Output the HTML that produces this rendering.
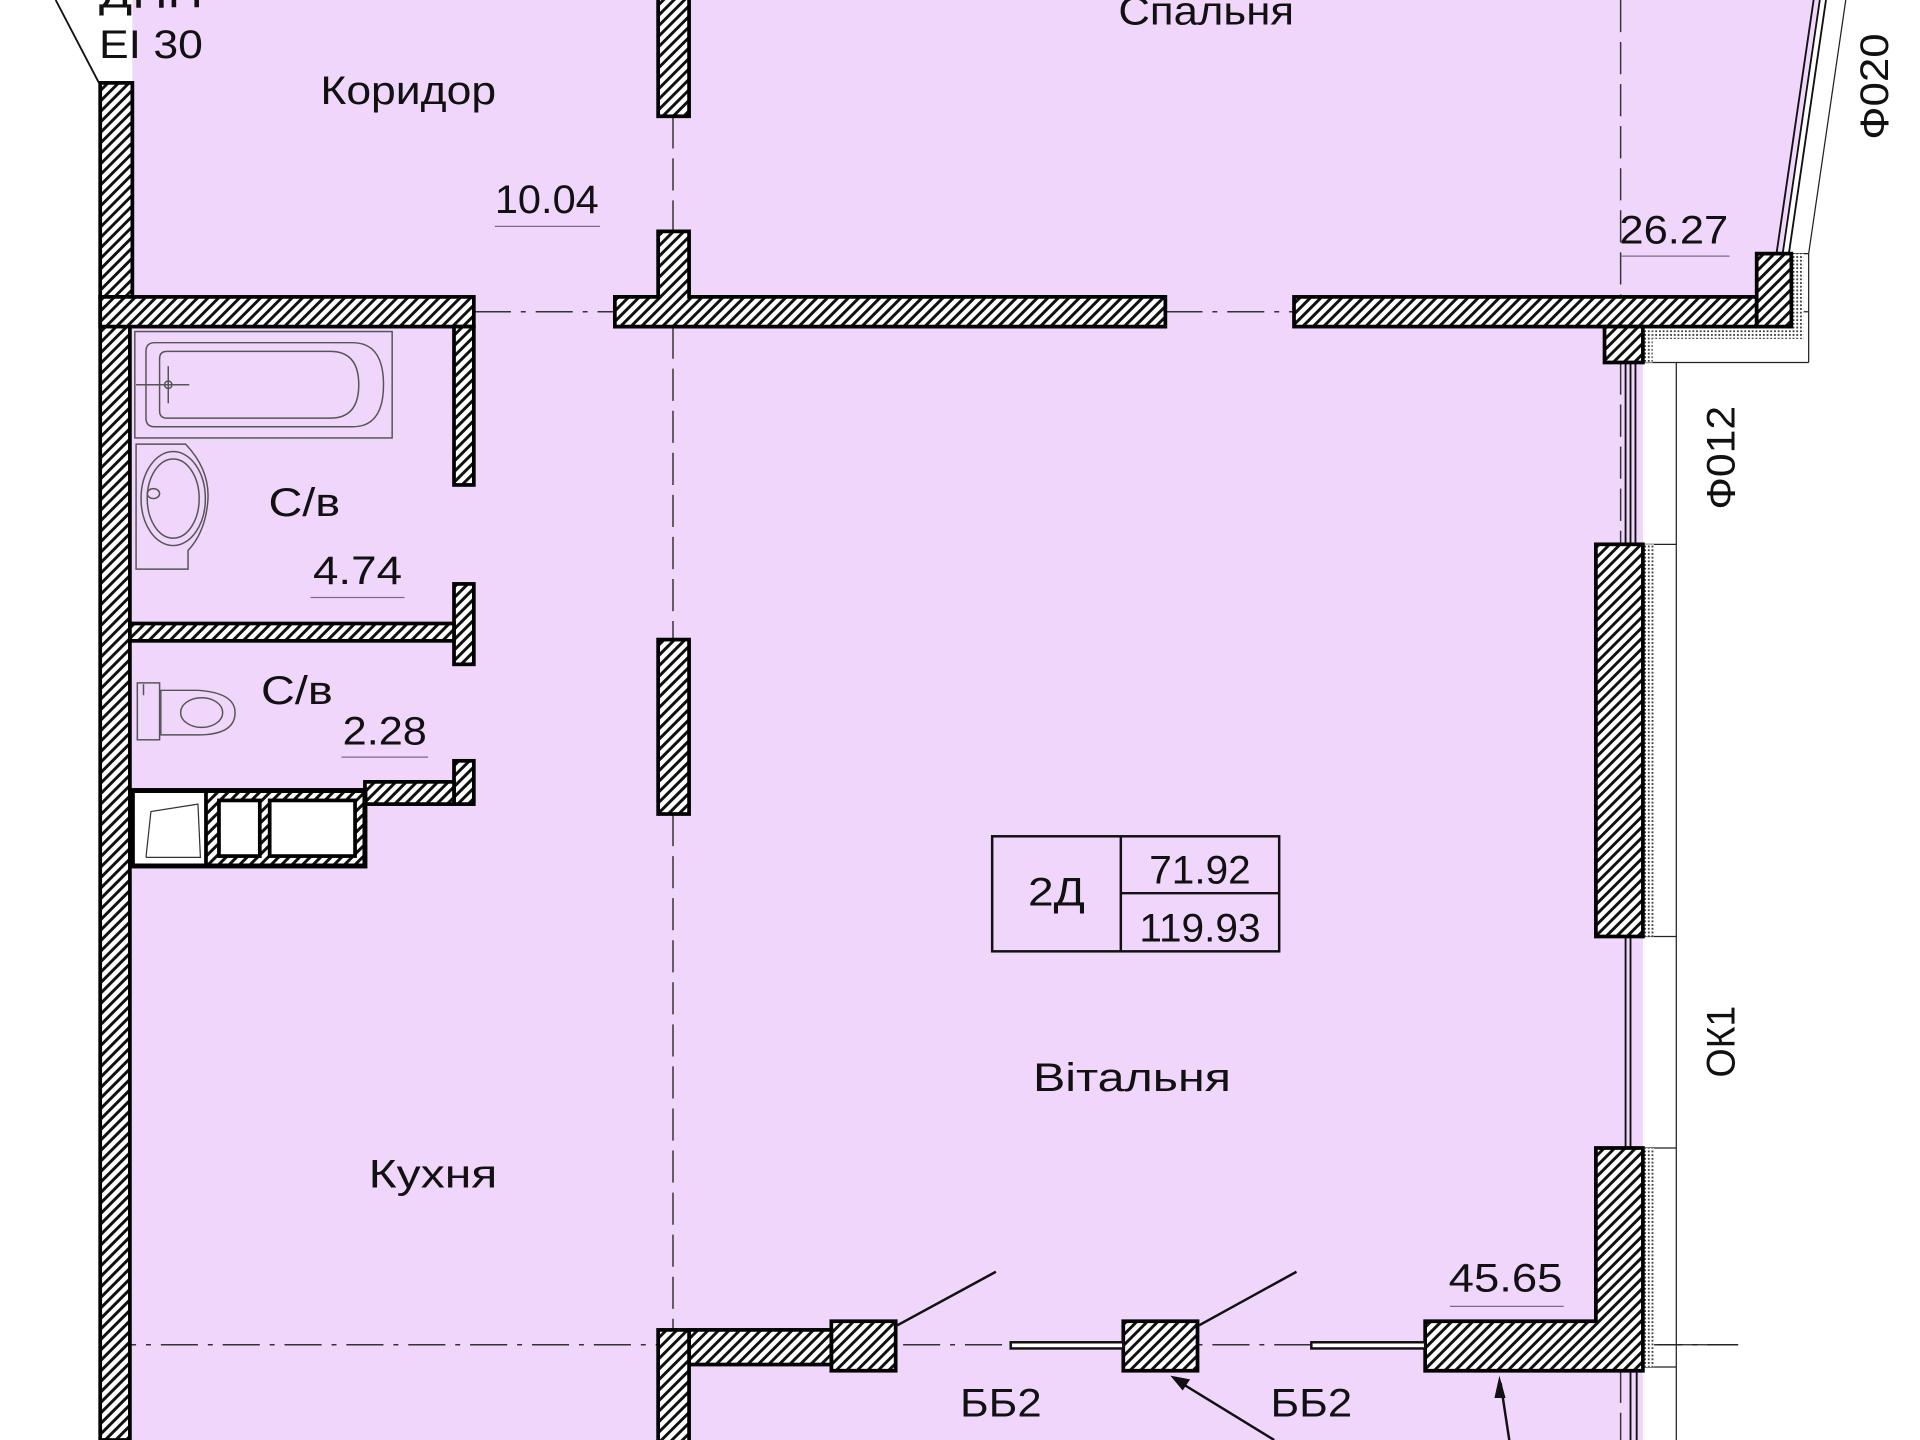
<!DOCTYPE html>
<html><head><meta charset="utf-8"><style>
html,body{margin:0;padding:0;background:#fff;}
svg{display:block;}
text{font-family:"Liberation Sans","DejaVu Sans",sans-serif;fill:#111;}
</style></head><body>
<svg width="1920" height="1440" viewBox="0 0 1552 1164" xmlns="http://www.w3.org/2000/svg">
<defs>
<pattern id="h" width="6" height="6" patternUnits="userSpaceOnUse" patternTransform="rotate(45)">
<rect width="6" height="6" fill="#fff"/><rect width="2.4" height="6" fill="#111"/>
</pattern>
<pattern id="d" width="3" height="3" patternUnits="userSpaceOnUse">
<rect width="3" height="3" fill="#fff"/><rect width="1.5" height="1.5" fill="#444"/>
</pattern>
</defs>
<rect width="1552" height="1164" fill="#fff"/>
<!-- pink floor -->
<polygon points="107,0 1470,0 1440,205 1420,264 1328,264 1328,1164 80,1164 80,67 107,67" fill="#f0d6fb"/>

<!-- axes -->
<g stroke="#333" stroke-width="1.3" fill="none" stroke-dasharray="30,8,4,8">
<line x1="383" y1="252" x2="497" y2="252"/>
<line x1="942" y1="252" x2="1046" y2="252"/>
<line x1="80" y1="1087" x2="1405" y2="1087"/>
</g>
<g stroke="#333" stroke-width="1.2" fill="none" stroke-dasharray="26,8">
<line x1="544" y1="94" x2="544" y2="187"/>
<line x1="544" y1="264" x2="544" y2="517"/>
<line x1="544" y1="658" x2="544" y2="1075"/>
<line x1="1310" y1="0" x2="1310" y2="240"/>
<line x1="1310" y1="293" x2="1310" y2="440"/>
<line x1="1310" y1="1108" x2="1310" y2="1164"/>
</g>

<!-- right outline -->
<g stroke="#222" stroke-width="1" fill="none">
<line x1="1355" y1="293" x2="1355" y2="1164"/>
<line x1="1328" y1="293" x2="1462" y2="293"/>
<line x1="1462" y1="205" x2="1462" y2="293"/>
<line x1="1448" y1="205" x2="1462" y2="205"/>
<line x1="1462" y1="205" x2="1492" y2="0"/>
<line x1="1420" y1="252" x2="1462" y2="252"/>
<line x1="1328" y1="440" x2="1355" y2="440"/>
<line x1="1328" y1="757" x2="1355" y2="757"/>
<line x1="1328" y1="928" x2="1355" y2="928"/>
<line x1="1328" y1="1105" x2="1355" y2="1105"/>
<line x1="1340" y1="1087" x2="1405" y2="1087"/>
</g>
<!-- angled glazing -->
<g stroke="#111" stroke-width="1.5" fill="none">
<line x1="1436" y1="205" x2="1466" y2="0"/>
<line x1="1441" y1="205" x2="1471" y2="0"/>
<line x1="1446" y1="205" x2="1476" y2="0"/>
</g>
<!-- glass windows right -->
<g stroke="#111" stroke-width="1.5">
<line x1="1314" y1="293" x2="1314" y2="440"/><line x1="1318" y1="293" x2="1318" y2="440"/><line x1="1322" y1="293" x2="1322" y2="440"/>
<line x1="1314" y1="757" x2="1314" y2="928"/><line x1="1318" y1="757" x2="1318" y2="928"/>
<line x1="1318" y1="1108" x2="1318" y2="1164"/><line x1="1323" y1="1108" x2="1323" y2="1164"/>
</g>
<!-- insulation strips -->
<rect x="1328" y="264" width="8" height="29" fill="url(#d)"/>
<rect x="1336" y="264" width="112" height="10" fill="url(#d)"/>
<rect x="1448" y="205" width="10" height="69" fill="url(#d)"/>
<rect x="1328" y="440" width="9" height="317" fill="url(#d)"/>
<rect x="1328" y="928" width="9" height="177" fill="url(#d)"/>

<!-- walls -->
<g fill="url(#h)" stroke="#000" stroke-width="3">
<rect x="81" y="67" width="26" height="173"/>
<rect x="81" y="240" width="24" height="924"/>
<rect x="81" y="240" width="302" height="24"/>
<rect x="532" y="-5" width="25" height="99"/>
<polygon points="532,187 557,187 557,240 942,240 942,264 497,264 497,240 532,240"/>
<rect x="1046" y="240" width="374" height="24"/>
<rect x="1420" y="205" width="28" height="59"/>
<rect x="1297" y="264" width="31" height="29"/>
<rect x="367" y="264" width="16" height="128"/>
<rect x="367" y="472" width="16" height="65"/>
<rect x="105" y="504" width="262" height="14"/>
<rect x="367" y="615" width="16" height="35"/>
<rect x="295" y="632" width="72" height="18"/>
<rect x="532" y="517" width="25" height="141"/>
<rect x="1290" y="440" width="38" height="317"/>
<polygon points="1290,928 1328,928 1328,1108 1152,1108 1152,1068 1290,1068"/>
<rect x="908" y="1068" width="60" height="40"/>
<rect x="672" y="1068" width="52" height="40"/>
<rect x="557" y="1075" width="115" height="28"/>
<rect x="532" y="1075" width="25" height="95"/>
</g>
<!-- shaft box -->
<rect x="105" y="637" width="192" height="65" fill="#000"/>
<rect x="109" y="641" width="56" height="57" fill="#fff"/>
<rect x="168" y="641" width="125" height="57" fill="url(#h)"/>
<rect x="177" y="647" width="33" height="45" fill="#fff" stroke="#000" stroke-width="3"/>
<rect x="218" y="647" width="69" height="45" fill="#fff" stroke="#000" stroke-width="3"/>
<polyline points="118,693 122,656 160,650 162,693 118,693" fill="none" stroke="#333" stroke-width="1"/>

<!-- sashes & door swings -->
<g stroke="#111" stroke-width="2" fill="none">
<rect x="817" y="1085" width="91" height="5" fill="#fff"/>
<rect x="1060" y="1085" width="92" height="5" fill="#fff"/>
<line x1="724" y1="1072" x2="805" y2="1028"/>
<line x1="968" y1="1072" x2="1048" y2="1028"/>
<line x1="1030" y1="1164" x2="950" y2="1115"/>
<line x1="1220" y1="1164" x2="1213" y2="1118"/>
</g>
<polygon points="946,1112 962,1115 956,1124" fill="#111"/>
<polygon points="1212,1112 1217,1130 1208,1130" fill="#111"/>

<!-- bathroom fixtures -->
<g stroke="#555" stroke-width="1.2" fill="none">
<rect x="109" y="268" width="208" height="86"/>
<path d="M125,277 H285 Q310,277 310,311 Q310,345 285,345 H125 Q118,345 118,338 V284 Q118,277 125,277Z"/>
<path d="M135,284 H267 Q290,284 290,311 Q290,338 267,338 H135 Q129,338 129,332 V290 Q129,284 135,284Z"/>
<line x1="110" y1="311" x2="153" y2="311"/><line x1="136" y1="296" x2="136" y2="326"/><circle cx="136" cy="311" r="3"/>
<path d="M110,359 H150 Q170,380 168,405 Q166,430 152,445 V460 H110 Z"/>
<ellipse cx="140" cy="403" rx="26" ry="38"/><ellipse cx="140" cy="403" rx="21" ry="32"/>
<ellipse cx="124" cy="399" rx="5" ry="4"/>
<rect x="111" y="552" width="18" height="46"/><line x1="116" y1="553" x2="116" y2="562"/>
<path d="M130,558 H160 Q190,560 190,576 Q190,594 160,594 H130 Z"/>
<ellipse cx="163" cy="576" rx="17" ry="12"/>
</g>

<!-- EI leader -->
<line x1="45" y1="0" x2="80" y2="67" stroke="#111" stroke-width="1.5"/>

<!-- underlines -->
<g stroke="#7a6a85" stroke-width="1">
<line x1="400" y1="183" x2="485" y2="183"/>
<line x1="1310" y1="207" x2="1398" y2="207"/>
<line x1="251" y1="483" x2="327" y2="483"/>
<line x1="276" y1="612" x2="346" y2="612"/>
<line x1="1172" y1="1056" x2="1264" y2="1056"/>
</g>

<!-- info box -->
<g stroke="#111" stroke-width="2" fill="none">
<rect x="802" y="676" width="232" height="93"/>
<line x1="906" y1="676" x2="906" y2="769"/>
<line x1="906" y1="722" x2="1034" y2="722"/>
</g>

<!-- text -->
<g font-size="32" text-anchor="middle">
<text x="975" y="20" textLength="142" lengthAdjust="spacingAndGlyphs">Спальня</text>
<text x="330" y="84" textLength="142" lengthAdjust="spacingAndGlyphs">Коридор</text>
<text x="442" y="172" textLength="84" lengthAdjust="spacingAndGlyphs">10.04</text>
<text x="1353" y="197" textLength="88" lengthAdjust="spacingAndGlyphs">26.27</text>
<text x="246" y="417" textLength="58" lengthAdjust="spacingAndGlyphs">С/в</text>
<text x="289" y="472" textLength="72" lengthAdjust="spacingAndGlyphs">4.74</text>
<text x="240" y="569" textLength="58" lengthAdjust="spacingAndGlyphs">С/в</text>
<text x="311" y="602" textLength="68" lengthAdjust="spacingAndGlyphs">2.28</text>
<text x="854" y="732" textLength="46" lengthAdjust="spacingAndGlyphs">2Д</text>
<text x="970" y="714" textLength="82" lengthAdjust="spacingAndGlyphs">71.92</text>
<text x="970" y="761" textLength="98" lengthAdjust="spacingAndGlyphs">119.93</text>
<text x="915" y="882" textLength="160" lengthAdjust="spacingAndGlyphs">Вітальня</text>
<text x="350" y="960" textLength="104" lengthAdjust="spacingAndGlyphs">Кухня</text>
<text x="1217" y="1044" textLength="92" lengthAdjust="spacingAndGlyphs">45.65</text>
<text x="809" y="1145" textLength="66" lengthAdjust="spacingAndGlyphs">ББ2</text>
<text x="1060" y="1145" textLength="66" lengthAdjust="spacingAndGlyphs">ББ2</text>
<text x="908" y="1188" textLength="116" lengthAdjust="spacingAndGlyphs">Лоджія</text>
<text x="122" y="47" textLength="84" lengthAdjust="spacingAndGlyphs">EI 30</text>
<text x="122" y="6" textLength="84" lengthAdjust="spacingAndGlyphs">ДНП</text>
<text transform="translate(1526,70) rotate(-90)" textLength="86" lengthAdjust="spacingAndGlyphs">Ф020</text>
<text transform="translate(1402,370) rotate(-90)" textLength="84" lengthAdjust="spacingAndGlyphs">Ф012</text>
<text transform="translate(1402,842) rotate(-90)" textLength="58" lengthAdjust="spacingAndGlyphs">ОК1</text>
</g>
</svg>
</body></html>
